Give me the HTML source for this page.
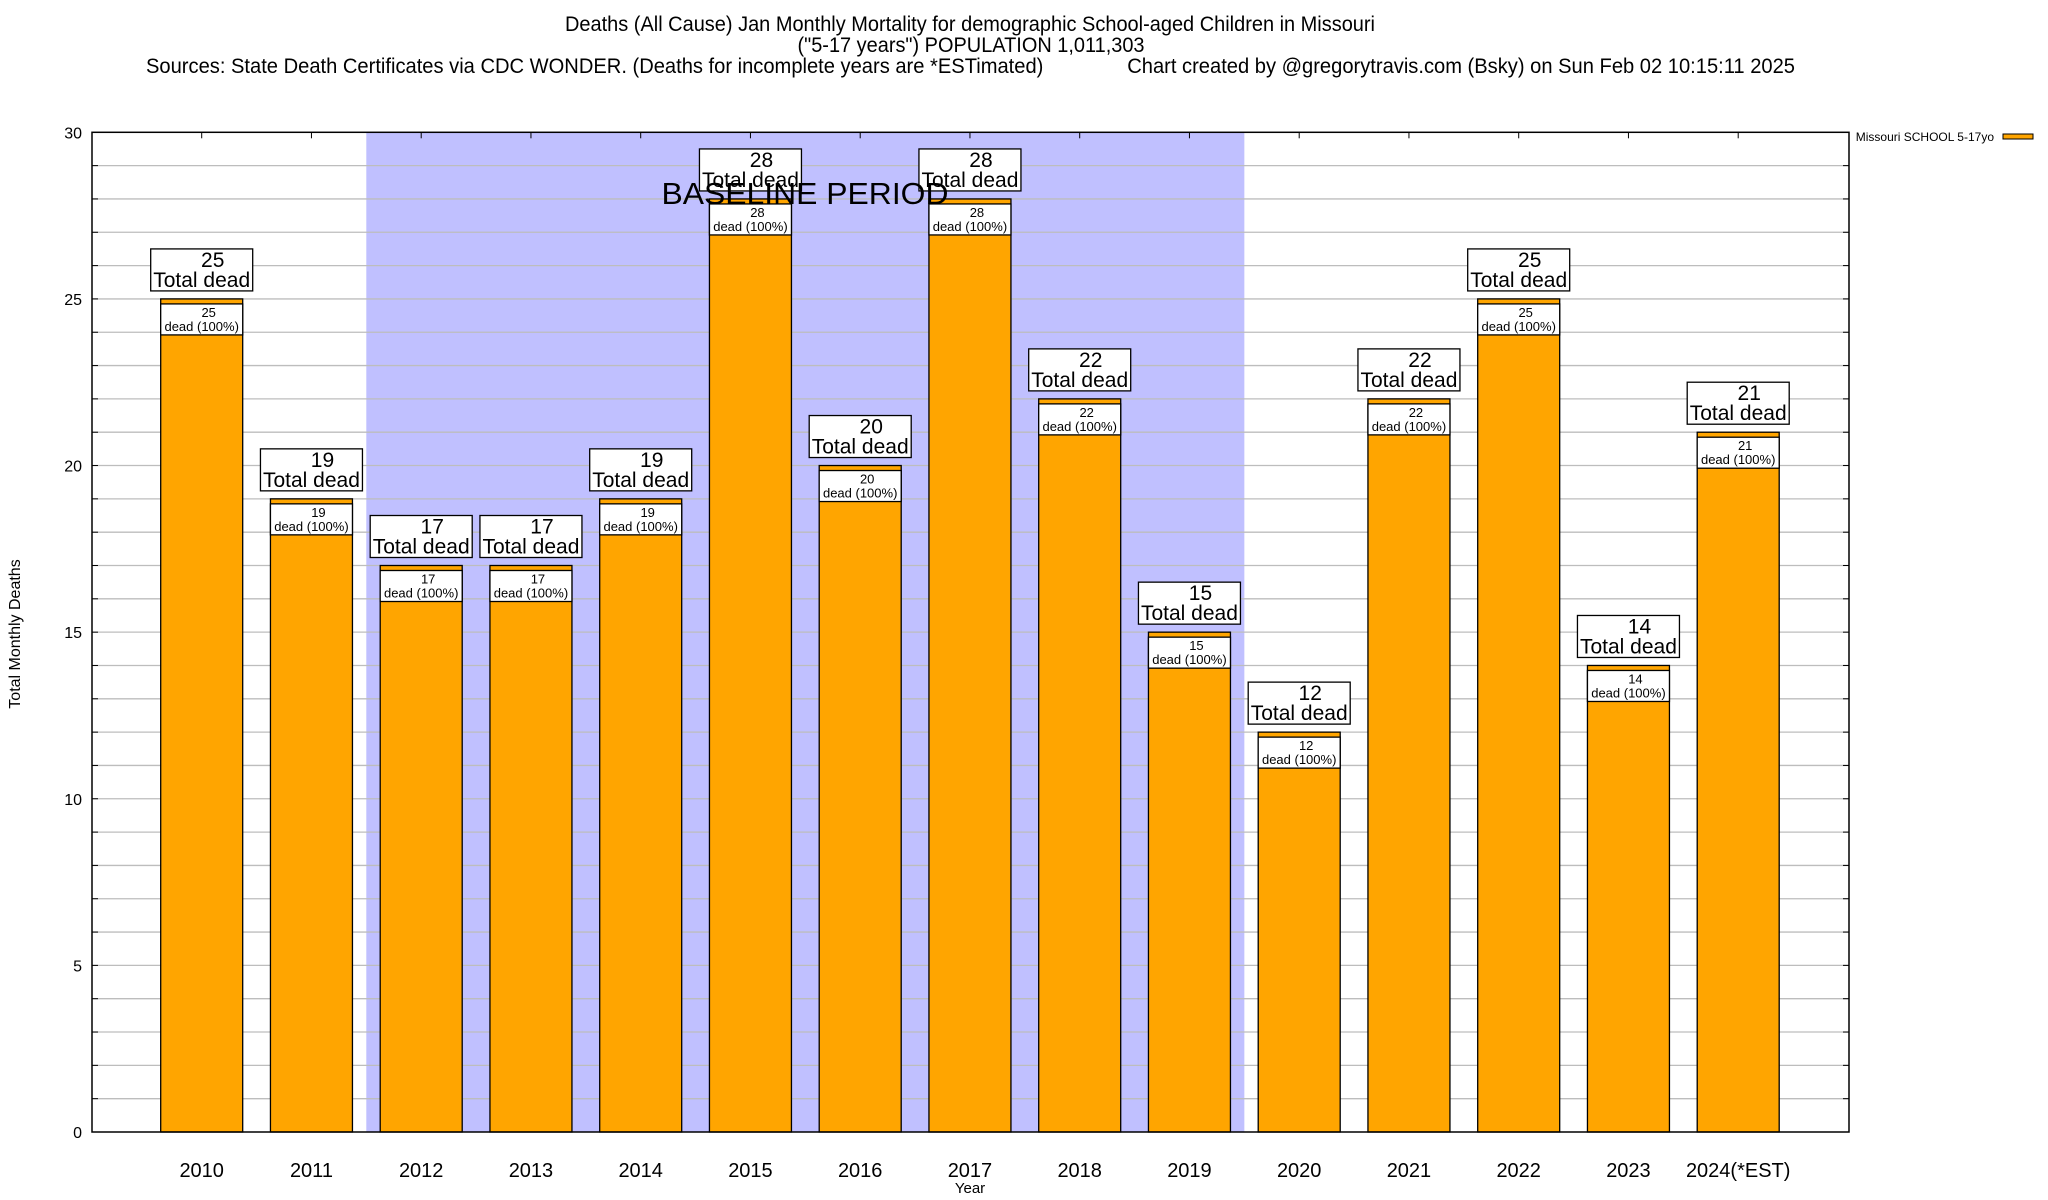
<!DOCTYPE html>
<html><head><meta charset="utf-8"><style>
html,body{margin:0;padding:0;background:#fff;}
svg{display:block;font-family:"Liberation Sans",sans-serif;}
</style></head><body>
<svg id="chart" width="2048" height="1200" viewBox="0 0 2048 1200" xmlns="http://www.w3.org/2000/svg">
<g id="titles">
<text x="970" y="31" font-size="21" text-anchor="middle" textLength="810" lengthAdjust="spacingAndGlyphs">Deaths (All Cause) Jan Monthly Mortality for demographic School-aged Children in Missouri</text>
<text x="971" y="52" font-size="21" text-anchor="middle" textLength="347" lengthAdjust="spacingAndGlyphs">("5-17 years") POPULATION 1,011,303</text>
<text x="146" y="73" font-size="21" textLength="1649" lengthAdjust="spacingAndGlyphs" xml:space="preserve">Sources: State Death Certificates via CDC WONDER. (Deaths for incomplete years are *ESTimated)               Chart created by @gregorytravis.com (Bsky) on Sun Feb 02 10:15:11 2025</text>
</g>
<g id="plot"></g>
<text x="20" y="634" font-size="16" text-anchor="middle" transform="rotate(-90 20 634)">Total Monthly Deaths</text>
<text x="970" y="1193" font-size="15" text-anchor="middle">Year</text>
<g>
<text x="1994" y="141" font-size="12" text-anchor="end">Missouri SCHOOL 5-17yo</text>
<rect x="2003" y="134" width="30" height="5" fill="#ffa500" stroke="#000" stroke-width="1"/>
</g>
</svg>
<script>
const categories = ["2010","2011","2012","2013","2014","2015","2016","2017","2018","2019","2020","2021","2022","2023","2024(*EST)"];
const deaths = [25,19,17,17,19,28,20,28,22,15,12,22,25,14,21];
const yTicks = [0,5,10,15,20,25,30];
const baselineStart = 2; // index of 2012
const baselineEnd = 9;   // index of 2019

const NS = "http://www.w3.org/2000/svg";
const L = 92, R = 1849, T = 132.3, B = 1132;
const yMax = 30;
function yScale(v){ return B - (v / yMax) * (B - T); }
function xScale(i){ return 201.7 + i * 109.75; }
const barW = 82;
const plot = document.getElementById('plot');
function mk(tag, attrs, parent){
  const e = document.createElementNS(NS, tag);
  for (const k in attrs) e.setAttribute(k, attrs[k]);
  (parent || plot).appendChild(e);
  return e;
}
const sh = mk('rect', {x: xScale(baselineStart) - 54.9, y: T, width: xScale(baselineEnd) - xScale(baselineStart) + 109.8, height: B - T, fill: '#c0c0ff'});


for (let v = 1; v < yMax; v++) {
  const y = yScale(v);
  const g = mk('line', {x1: L, x2: R, y1: y, y2: y, stroke: '#bdbdbd', 'stroke-width': 1.3});
  
  
  mk('line', {x1: L, x2: L + 6, y1: y, y2: y, stroke: '#000', 'stroke-width': 1});
  mk('line', {x1: R - 6, x2: R, y1: y, y2: y, stroke: '#000', 'stroke-width': 1});
}
yTicks.forEach(v => {
  const t = mk('text', {x: 82, y: yScale(v) + 6, 'font-size': 16, 'text-anchor': 'end'});
  t.textContent = v;
  
  
});
categories.forEach((c, i) => {
  const v = deaths[i];
  const cx = xScale(i), top = yScale(v);
  const g = mk('g', {});
  
  
  mk('rect', {x: cx - barW/2, y: top, width: barW, height: B - top, fill: '#ffa500', stroke: '#000', 'stroke-width': 1.3}, g);
  const ib = mk('rect', {x: cx - barW/2, y: top + 5, width: barW, height: 31, fill: '#fff', stroke: '#000', 'stroke-width': 1.3}, g);
  
  
  const t1 = mk('text', {x: cx + 7, y: top + 18, 'font-size': 13, 'text-anchor': 'middle'}, g);
  t1.textContent = v;
  const t2 = mk('text', {x: cx, y: top + 32, 'font-size': 13, 'text-anchor': 'middle'}, g);
  t2.textContent = 'dead (100%)';
  const lb = mk('rect', {x: cx - 51, y: top - 50, width: 102, height: 42, fill: '#fff', stroke: '#000', 'stroke-width': 1.3});
  
  
  const n = mk('text', {x: cx + 11, y: top - 32, 'font-size': 21, 'text-anchor': 'middle'});
  n.textContent = v;
  
  
  const td = mk('text', {x: cx, y: top - 12, 'font-size': 21, 'text-anchor': 'middle'});
  td.textContent = 'Total dead';
  
  
  mk('line', {x1: cx, x2: cx, y1: T, y2: T + 6, stroke: '#000', 'stroke-width': 1});
  const xl = mk('text', {x: cx, y: 1177, 'font-size': 20, 'text-anchor': 'middle'});
  xl.textContent = c;
  
  
});
const bl = mk('text', {x: 805, y: 204, 'font-size': 31, 'text-anchor': 'middle', textLength: 287, lengthAdjust: 'spacingAndGlyphs'});
bl.textContent = 'BASELINE PERIOD';


const fr = mk('rect', {x: L, y: T, width: R - L, height: B - T, fill: 'none', stroke: '#000', 'stroke-width': 1.5});


</script>
</body></html>
